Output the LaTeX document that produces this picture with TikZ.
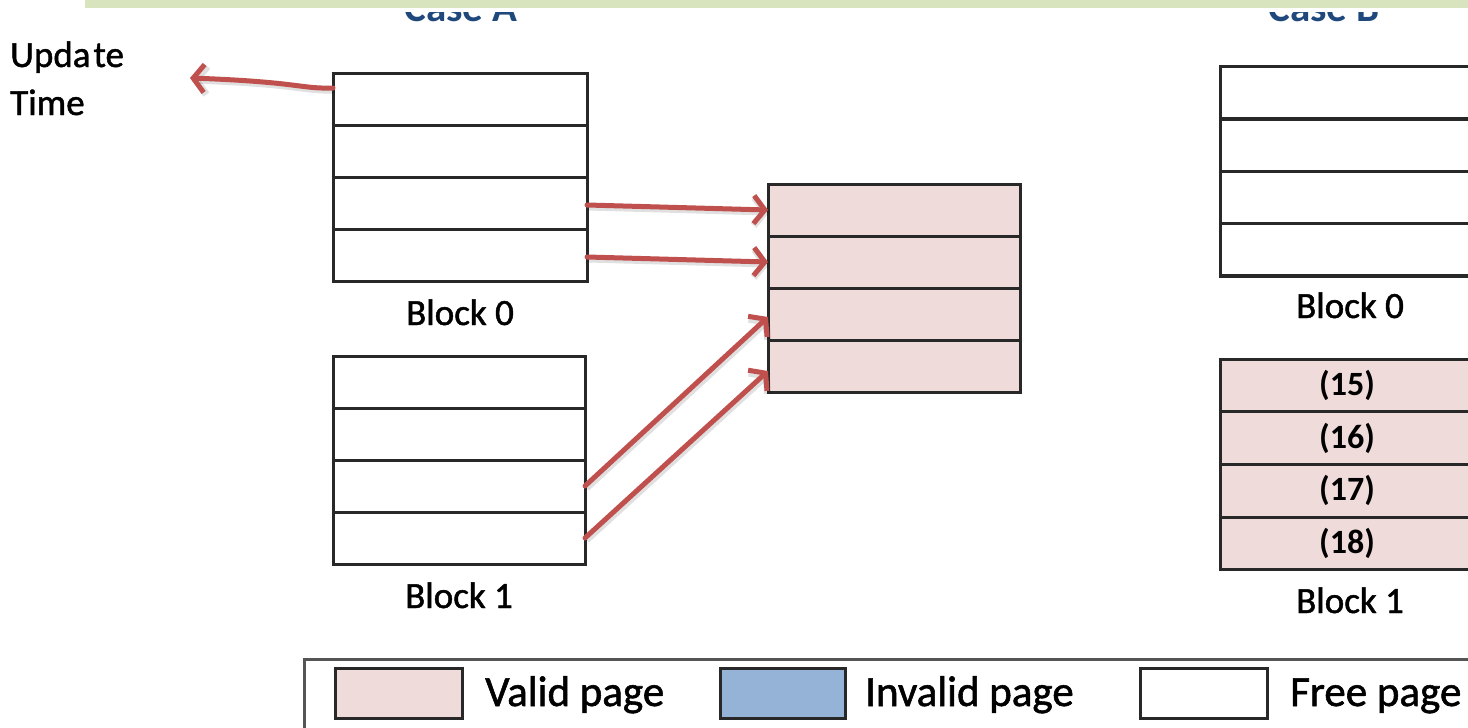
\documentclass[tikz,border=0pt]{standalone}
\usepackage{fontspec}
\setmainfont{Carlito}
\newfontfamily\labelfont{Carlito}[RawFeature={embolden=1.3}]
\usetikzlibrary{arrows.meta}
\definecolor{linec}{RGB}{40,40,40}
\definecolor{validc}{RGB}{240,219,219}
\definecolor{invalidc}{RGB}{149,179,215}
\definecolor{arrowred}{RGB}{192,80,77}
\definecolor{barc}{RGB}{215,228,190}
\definecolor{titlec}{RGB}{31,73,125}
\definecolor{legendline}{RGB}{85,85,85}
\tikzset{
  page/.style={draw=linec, line width=3pt, minimum width=254pt, minimum height=52pt,
    inner sep=0pt, outer sep=0pt, font=\fontsize{34}{34}\selectfont\bfseries},
  validpage/.style={page, fill=validc},
  blocklabel/.style={anchor=base, inner sep=0pt, font=\labelfont\fontsize{37}{37}\selectfont},
  sidelabel/.style={anchor=base west, inner sep=0pt, font=\labelfont\fontsize{37}{37}\selectfont},
  legendtext/.style={anchor=base west, inner sep=0pt, font=\labelfont\fontsize{43}{43}\selectfont},
  casetitle/.style={inner sep=0pt, text=titlec, font=\fontsize{41}{41}\selectfont\bfseries},
  swatch/.style={draw=linec, line width=3pt, minimum width=127pt, minimum height=50pt,
    inner sep=0pt, outer sep=0pt},
  redarrow/.style={draw=arrowred, line width=5pt, line cap=round,
    -{Straight Barb[length=11pt,width=28pt]},
    preaction={draw=black, draw opacity=0.12, line width=7pt,
      transform canvas={shift={(1.5pt,-2pt)}}}},
}
\begin{document}
\begin{tikzpicture}[x=1pt, y=-1pt]
\useasboundingbox (0,0) rectangle (1468,728);
\clip (0,0) rectangle (1468,728);
\fill[white] (0,0) rectangle (1468,728);

% case titles, partly hidden under the header bar
\node[casetitle, anchor=base] (casea) at (461,21) {Case A};
\node[casetitle, anchor=base east] (caseb) at (1380,21) {Case B};
\fill[white] (0,0) rectangle (1468,12);
\fill[barc] (85,0) rectangle (1468,8);

% side label
\node[sidelabel] (upd) at (10,67) {Upda\kern3pt te};
\node[sidelabel] (tim) at (10,115) {Time};

% Case A, block 0
\node[page] (a0r1) at (460,99) {};
\node[page] (a0r2) at (460,151) {};
\node[page] (a0r3) at (460,203) {};
\node[page] (a0r4) at (460,255) {};
\node[blocklabel] (a0lab) at (460,325) {Block 0};

% Case A, block 1
\node[page, minimum width=252pt] (a1r1) at (459,382) {};
\node[page, minimum width=252pt] (a1r2) at (459,434) {};
\node[page, minimum width=252pt] (a1r3) at (459,486) {};
\node[page, minimum width=252pt] (a1r4) at (459,538) {};
\node[blocklabel] (a1lab) at (459,608) {Block 1};

% destination block
\node[validpage, minimum width=252pt] (m1) at (894,210) {};
\node[validpage, minimum width=252pt] (m2) at (894,262) {};
\node[validpage, minimum width=252pt] (m3) at (894,314) {};
\node[validpage, minimum width=252pt] (m4) at (894,366) {};

% Case B, block 0
\node[page, minimum height=52.5pt] (b0r1) at (1347,92.25) {};
\node[page, minimum height=52.5pt] (b0r2) at (1347,144.75) {};
\node[page, minimum height=52.5pt] (b0r3) at (1347,197.25) {};
\node[page, minimum height=52.5pt] (b0r4) at (1347,249.75) {};
\draw[linec, line width=4pt] (b0r1.south west) -- (b0r1.south east);
\draw[linec, line width=4pt] (b0r4.south west) -- (b0r4.south east);
\node[blocklabel] (b0lab) at (1350,318) {Block 0};

% Case B, block 1
\node[validpage, minimum height=52.75pt] (b1r1) at (1347,385.4) {(15)};
\node[validpage, minimum height=52.75pt] (b1r2) at (1347,438.1) {(16)};
\node[validpage, minimum height=52.75pt] (b1r3) at (1347,490.9) {(17)};
\node[validpage, minimum height=52.75pt] (b1r4) at (1347,543.6) {(18)};
\node[blocklabel] (b1lab) at (1350,613) {Block 1};

% arrows
\coordinate (updtip) at (190,78);
\draw[redarrow] ([yshift=11pt]a0r1.west) .. controls (300,89) and (300,82) .. (updtip);
\draw[redarrow] ([yshift=-2pt]a0r3.east) -- (m1.west);
\draw[redarrow] ([yshift=-2pt]a0r4.east) -- (m2.west);
\draw[redarrow] (a1r3.east) -- ([yshift=-3pt]m3.west);
\draw[redarrow] (a1r4.east) -- ([yshift=-5pt]m4.west);

% legend
\draw[legendline, line width=3pt] (304,740) -- (304,659) -- (1480,659);
\node[swatch, fill=validc] (sv) at (398.5,693) {};
\node[legendtext] (tv) at (485,706) {Valid page};
\node[swatch, fill=invalidc, minimum width=125pt] (si) at (782.5,693) {};
\node[legendtext] (ti) at (865,706) {Invalid page};
\node[swatch, fill=white] (sf) at (1203.5,693) {};
\node[legendtext] (tf) at (1290,706) {Free page};
\end{tikzpicture}
\end{document}
